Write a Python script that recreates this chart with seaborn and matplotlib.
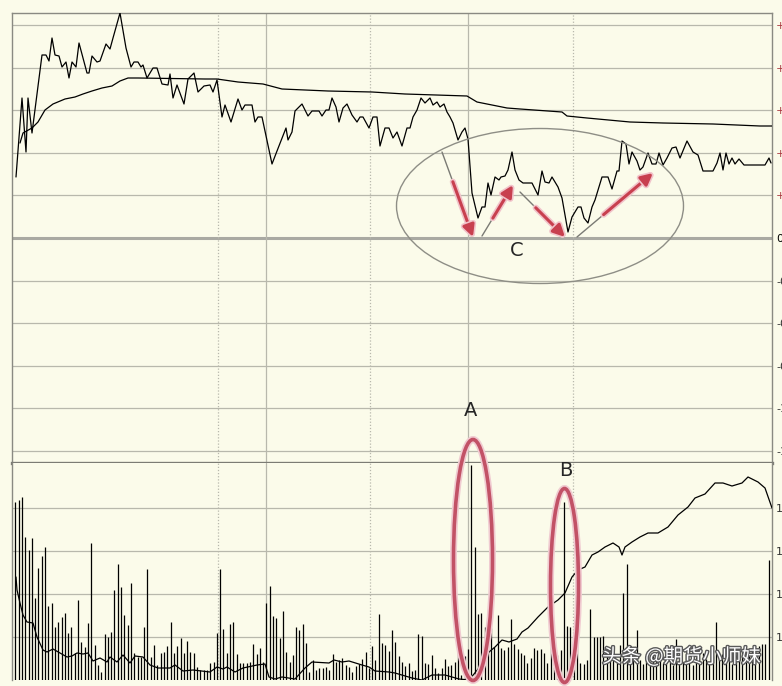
import numpy as np
import pandas as pd
import matplotlib.pyplot as plt
import matplotlib.patheffects as pe
from matplotlib.patches import Ellipse, FancyArrowPatch
import seaborn as sns

"""
intraday price line (vertices read off the chart), time offset vs change
"""
price_t = [4, 10, 14, 16, 20, 30, 34, 37, 40, 43,
           47, 50, 54, 57, 60, 64, 67, 75, 77, 80,
           85, 88, 94, 98, 101, 108, 114, 119, 122, 126,
           129, 131, 135, 141, 145, 150, 156, 158, 161, 165,
           172, 176, 182, 186, 192, 198, 201, 205, 210, 213,
           219, 226, 230, 233, 240, 243, 246, 250, 260, 265,
           274, 276, 280, 283, 290, 296, 300, 307, 310, 314,
           317, 320, 324, 327, 331, 335, 340, 345, 348, 351,
           357, 361, 365, 368, 373, 377, 381, 385, 390, 395,
           398, 401, 405, 409, 413, 418, 421, 425, 428, 432,
           435, 438, 441, 446, 450, 453, 456, 460, 466, 470,
           473, 476, 479, 483, 487, 489, 493, 496, 500, 503,
           507, 511, 520, 526, 530, 533, 537, 540, 546, 550,
           556, 560, 566, 569, 572, 576, 580, 583, 590, 596,
           600, 605, 607, 610, 614, 617, 620, 625, 628, 631,
           636, 640, 644, 647, 651, 655, 660, 664, 668, 675,
           681, 686, 691, 701, 705, 708, 711, 714, 717, 720,
           723, 727, 732, 753, 757, 759]
price_v = [61, 140, 86, 140, 105, 183, 183, 177, 200, 183,
           182, 171, 176, 160, 176, 171, 195, 165, 165, 182,
           176, 177, 194, 189, 200, 225, 190, 171, 176, 176,
           171, 173, 160, 170, 170, 154, 153, 164, 140, 153,
           134, 159, 165, 146, 152, 153, 146, 158, 121, 133,
           116, 139, 128, 133, 133, 116, 121, 121, 74, 87,
           110, 98, 106, 127, 134, 122, 127, 127, 122, 128,
           128, 140, 131, 116, 130, 134, 123, 116, 121, 121,
           110, 121, 121, 92, 110, 110, 100, 106, 92, 110,
           110, 121, 128, 140, 135, 140, 133, 136, 131, 134,
           126, 121, 115, 98, 106, 110, 99, 45, 20, 31,
           31, 55, 43, 61, 58, 61, 62, 68, 86, 68,
           58, 55, 55, 43, 67, 56, 55, 61, 51, 40,
           6, 21, 31, 31, 20, 15, 31, 38, 61, 61,
           49, 67, 67, 97, 94, 74, 86, 77, 68, 71,
           85, 74, 74, 85, 73, 80, 90, 91, 80, 97,
           86, 83, 67, 67, 75, 85, 68, 85, 74, 80,
           74, 79, 73, 73, 80, 75]

# average price line
avg_t = [8, 11, 20, 26, 33, 41, 53, 63, 71, 80,
         90, 100, 108, 116, 126, 193, 205, 226, 251, 270,
         316, 360, 393, 455, 465, 495, 508, 550, 555, 575,
         618, 651, 701, 748, 760]
avg_v = [95, 105, 110, 116, 128, 134, 139, 141, 144, 147,
         150, 152, 157, 160, 160, 159, 159, 156, 154, 149,
         147, 146, 144, 142, 136, 130, 129, 126, 122, 120,
         116, 115, 114, 112, 112]

# open interest line in the volume panel
oi_t = [4, 5, 8, 11, 15, 21, 25, 31, 35, 41,
        48, 55, 60, 65, 71, 76, 81, 88, 95, 98,
        105, 111, 118, 123, 131, 138, 146, 158, 163, 171,
        181, 198, 205, 211, 215, 223, 231, 245, 253, 257,
        263, 270, 283, 293, 300, 317, 322, 330, 337, 350,
        357, 363, 377, 383, 400, 410, 420, 433, 447, 457,
        467, 477, 483, 490, 497, 505, 510, 516, 526, 536,
        546, 553, 560, 566, 573, 580, 586, 593, 601, 607,
        610, 613, 620, 628, 636, 646, 656, 666, 676, 683,
        693, 703, 711, 720, 730, 736, 746, 753, 760]
oi_v = [103, 90, 77, 65, 58, 57, 43, 30, 28, 31,
        27, 23, 24, 27, 26, 27, 19, 22, 18, 23,
        18, 25, 17, 24, 23, 15, 12, 12, 15, 9,
        10, 8, 13, 11, 13, 8, 12, 15, 16, 3,
        1, 3, 1, 12, 18, 17, 20, 18, 19, 15,
        13, 9, 8, 7, 2, 0, 5, 5, 1, 0,
        12, 28, 33, 40, 38, 41, 48, 52, 63, 73,
        80, 87, 103, 110, 113, 125, 128, 133, 137, 133,
        125, 133, 138, 143, 147, 147, 153, 165, 173, 182,
        186, 197, 197, 194, 197, 203, 198, 192, 172]

# per-bar volume
volume = [178, 180, 183, 143, 130, 142, 82, 112, 124, 133,
          74, 77, 53, 58, 63, 67, 47, 53, 27, 80,
          38, 33, 57, 137, 35, 15, 8, 46, 43, 48,
          90, 116, 93, 65, 55, 97, 27, 23, 23, 53,
          111, 23, 35, 15, 27, 28, 34, 58, 27, 34,
          42, 27, 39, 28, 27, 13, 10, 10, 10, 17,
          18, 47, 111, 51, 27, 56, 58, 26, 17, 17,
          17, 18, 36, 26, 32, 18,
          77, 94, 64, 62, 42, 69, 28, 18, 25, 53,
          50, 56, 37, 8, 20, 10, 12, 12, 13, 10,
          26, 18, 20, 22, 15, 13, 8, 14, 16, 21,
          28, 12, 34, 20, 66, 37, 35, 29, 50, 38,
          24, 18, 14, 17, 9, 10, 46, 44, 17, 16,
          25, 12, 7, 12, 21, 14, 15, 18, 34, 5,
          24, 31, 215, 133, 66, 67, 53, 60, 52, 33,
          65, 32, 30, 33, 61, 36,
          31, 27, 25, 17, 22, 32, 30, 31, 27, 17,
          33, 13, 25, 30, 178, 54, 53, 36, 37, 17,
          16, 20, 71, 43, 43, 43, 44, 27, 23, 23,
          20, 35, 87, 116, 27, 23, 50, 20, 16,
          22, 18, 25, 20, 28, 17, 24, 20, 15, 41,
          22, 18, 26, 20, 15, 23, 19, 27, 21, 17,
          24, 58, 20, 26, 18, 22, 16, 25, 20, 28,
          18, 24, 30, 22, 34, 36, 36, 120]

price_labels = ["+1.50%", "+1.20%", "+0.90%", "+0.60%", "+0.30%", "0.00%",
                "-0.30%", "-0.60%", "-0.90%", "-1.20%", "-1.50%"]
oi_labels = ["106800", "106400", "106000", "105600"]

bg = "#FBFBEA"
grid_c = "#B8B8AC"
frame_c = "#8A8A82"

sns.set_style("white", {"axes.facecolor": bg, "figure.facecolor": bg})
plt.rcParams['font.family'] = ['DejaVu Sans']

fig = plt.figure(figsize=(7.82, 6.86), dpi=100)
fig.patch.set_facecolor(bg)
W, H = 782, 686
ax1 = fig.add_axes([12 / W, 1 - 463 / H, 760 / W, 450 / H])
ax2 = fig.add_axes([12 / W, 1 - 680 / H, 760 / W, 217 / H])

step = 42.6
session = 760
vlines_solid = [254, 456]
vlines_dot = [206, 358, 561]

"""
top panel: price and average price
"""
for k in [5, 4, 3, 2, 1, -1, -2, -3, -4, -5]:
    ax1.axhline(k * step, color=grid_c, lw=0.9, zorder=1)
ax1.axhline(0, color="#A9A9A2", lw=2.2, zorder=1)
for x in vlines_solid:
    ax1.axvline(x, color=grid_c, lw=0.9, zorder=1)
    ax2.axvline(x, color=grid_c, lw=0.9, zorder=1)
for x in vlines_dot:
    ax1.axvline(x, color=grid_c, lw=0.9, ls=(0, (1, 1.5)), zorder=1)
    ax2.axvline(x, color=grid_c, lw=0.9, ls=(0, (1, 1.5)), zorder=1)

price = pd.DataFrame({"t": price_t, "chg": price_v})
avg = pd.DataFrame({"t": avg_t, "chg": avg_v})
sns.lineplot(data=price, x="t", y="chg", ax=ax1, color="black", lw=0.9,
             estimator=None, sort=False, zorder=3)
sns.lineplot(data=avg, x="t", y="chg", ax=ax1, color="black", lw=0.9,
             estimator=None, sort=False, zorder=3)

ax1.set_xlim(0, session)
ax1.set_ylim(-225, 225)
ax1.set_xticks([])
ax1.set_yticks([k * step for k in range(5, -6, -1)])
ax1.set_yticklabels(price_labels)
ax1.tick_params(axis="y", left=False, right=True, labelleft=False, labelright=True,
                length=0, pad=3, labelsize=8)
for lab, txt in zip(ax1.get_yticklabels(), price_labels):
    if txt.startswith("+"):
        lab.set_color("#A8343C")
    elif txt.startswith("-"):
        lab.set_color("#333333")
    else:
        lab.set_color("black")
ax1.set_xlabel("")
ax1.set_ylabel("")
for s in ["top", "left", "right"]:
    ax1.spines[s].set_color(frame_c)
    ax1.spines[s].set_linewidth(1)
ax1.spines["bottom"].set_color("#7C7C74")
ax1.spines["bottom"].set_linewidth(2.4)

# annotations: ellipse C and arrows
ax1.add_patch(Ellipse((528, 32), 287, 155, fill=False, ec="#8E8E86", lw=1, zorder=4))
ax1.text(505, -12, "C", fontsize=14, ha="center", va="center", zorder=5)

arrows = [((430, 86), (461, 1)), ((470, 2), (501, 53)),
          ((508, 46), (553, 1)), ((565, 1), (641, 65))]
glow = [pe.withStroke(linewidth=4.5, foreground="#F1C3CA")]
for (x0, y0), (x1, y1) in arrows:
    xm, ym = x0 + 0.35 * (x1 - x0), y0 + 0.35 * (y1 - y0)
    ax1.plot([x0, xm], [y0, ym], color="#7A7A74", lw=1, zorder=5)
    ar = FancyArrowPatch((xm, ym), (x1, y1), arrowstyle="-|>,head_length=7,head_width=3.5",
                         color="#C8404F", lw=2.2, mutation_scale=1, zorder=6,
                         shrinkA=0, shrinkB=0)
    ar.set_path_effects(glow)
    ax1.add_patch(ar)
ax1.text(459, -173, "A", fontsize=14, ha="center", va="center", zorder=5)

"""
bottom panel: volume bars and open interest
"""
for k in [1, 2, 3, 4]:
    ax2.axhline(k * 43, color=grid_c, lw=0.9, zorder=1)

bar_t = np.arange(1, len(volume) + 1) * session / 230
ax2.vlines(bar_t, 0, volume, color="black", lw=0.9, zorder=3)
oi = pd.DataFrame({"t": oi_t, "oi": oi_v})
sns.lineplot(data=oi, x="t", y="oi", ax=ax2, color="black", lw=0.9,
             estimator=None, sort=False, zorder=4)

ax2.set_xlim(0, session)
ax2.set_ylim(0, 217)
ax2.set_xticks([])
ax2.set_yticks([172, 129, 86, 43])
ax2.set_yticklabels(oi_labels)
ax2.tick_params(axis="y", left=False, right=True, labelleft=False, labelright=True,
                length=0, pad=3, labelsize=8, labelcolor="#333333")
ax2.set_xlabel("")
ax2.set_ylabel("")
ax2.spines["top"].set_visible(False)
ax2.spines["bottom"].set_visible(False)
for s in ["left", "right"]:
    ax2.spines[s].set_color(frame_c)
    ax2.spines[s].set_linewidth(1)

red_glow = [pe.withStroke(linewidth=5, foreground="#F0CBD1")]
for (cx, cy, w, h) in [(461, 120, 39, 241), (552.5, 94.5, 28, 194)]:
    e = Ellipse((cx, cy), w, h, fill=False, ec="#C25266", lw=2.6, zorder=6, clip_on=False)
    e.set_path_effects(red_glow)
    ax2.add_patch(e)
ax2.text(554, 210, "B", fontsize=14, ha="center", va="center", zorder=7)

fig.text(602 / W, 1 - 657 / H, "头条 @期货小师妹", fontsize=14, color="white",
         family=["Noto Sans CJK SC", "DejaVu Sans"], va="center", ha="left", zorder=10,
         path_effects=[pe.withStroke(linewidth=2, foreground="#5A5A5A")])

fig.savefig("out.png", dpi=100, facecolor=bg)
